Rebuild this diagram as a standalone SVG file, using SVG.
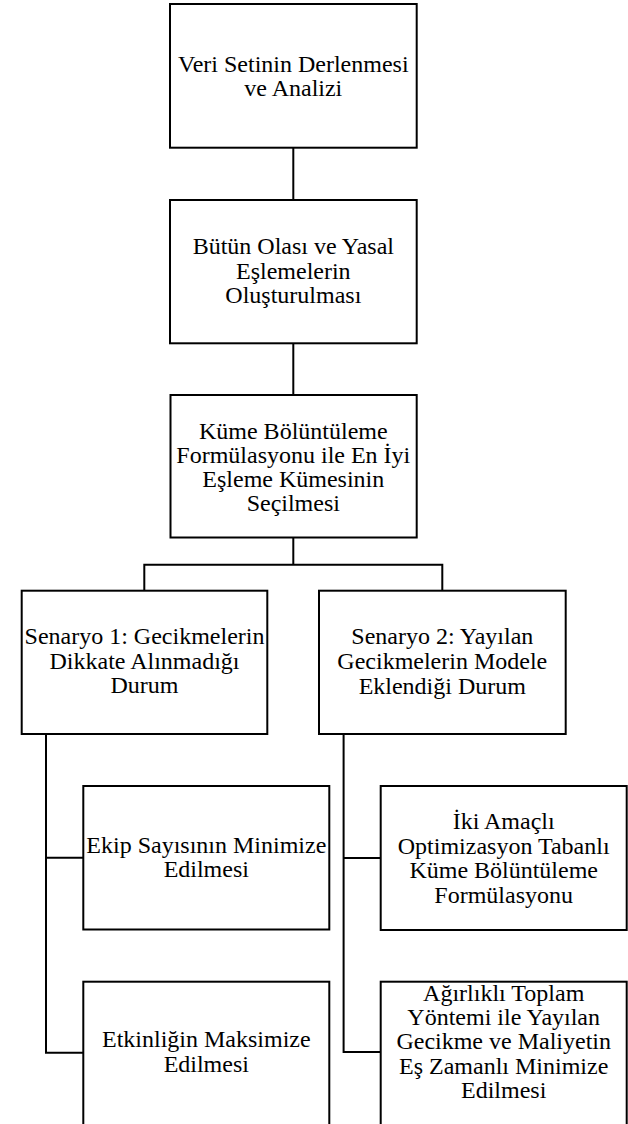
<svg xmlns="http://www.w3.org/2000/svg" width="628" height="1124" viewBox="0 0 628 1124">
<style>
.box{fill:#fff;stroke:#000;stroke-width:2}
.ln{fill:none;stroke:#000;stroke-width:2}
text{font-family:"Liberation Serif","Times New Roman",serif;font-size:24px;fill:#000;text-anchor:middle}
</style>
<rect width="628" height="1124" fill="#fff"/>
<g id="connectors">
<path class="ln" d="M293.3,147.7V200"/>
<path class="ln" d="M293.3,343.3V395"/>
<path class="ln" d="M293.3,537.5V564.7"/>
<path class="ln" d="M144.3,590.7V564.7H442.3V590.7"/>
<path class="ln" d="M46,734V1052.7H83.3"/>
<path class="ln" d="M46,857.7H83.3"/>
<path class="ln" d="M343.6,734V1052H380.7"/>
<path class="ln" d="M343.6,858H380.7"/>
</g>
<g id="n1">
<rect class="box" x="170" y="4" width="246.7" height="143.7"/>
<text x="293.3" y="72">Veri Setinin Derlenmesi</text>
<text x="293.3" y="96">ve Analizi</text>
</g>
<g id="n2">
<rect class="box" x="170" y="200" width="246.7" height="143.3"/>
<text x="293.3" y="254.3">Bütün Olası ve Yasal</text>
<text x="293.3" y="278.5">Eşlemelerin</text>
<text x="293.3" y="302.7">Oluşturulması</text>
</g>
<g id="n3">
<rect class="box" x="170.5" y="395" width="246.2" height="142.5"/>
<text x="293.3" y="439.3">Küme Bölüntüleme</text>
<text x="293.3" y="463.3">Formülasyonu ile En İyi</text>
<text x="293.3" y="487.3">Eşleme Kümesinin</text>
<text x="293.3" y="511.3">Seçilmesi</text>
</g>
<g id="s1">
<rect class="box" x="21.7" y="590.7" width="245.6" height="143.3"/>
<text x="144.5" y="644">Senaryo 1: Gecikmelerin</text>
<text x="144.5" y="668.5">Dikkate Alınmadığı</text>
<text x="144.5" y="693">Durum</text>
</g>
<g id="s2">
<rect class="box" x="319" y="590.7" width="246.7" height="143.3"/>
<text x="442.3" y="644.3">Senaryo 2: Yayılan</text>
<text x="442.3" y="668.8">Gecikmelerin Modele</text>
<text x="442.3" y="693.5">Eklendiği Durum</text>
</g>
<g id="a1">
<rect class="box" x="83.3" y="786" width="246" height="143.5"/>
<text x="206.3" y="852.7">Ekip Sayısının Minimize</text>
<text x="206.3" y="877.2">Edilmesi</text>
</g>
<g id="a2">
<rect class="box" x="83.3" y="981.7" width="246" height="143.5"/>
<text x="206.3" y="1047.3">Etkinliğin Maksimize</text>
<text x="206.3" y="1071.7">Edilmesi</text>
</g>
<g id="b1">
<rect class="box" x="380.7" y="786" width="246" height="144"/>
<text x="503.7" y="829.3">İki Amaçlı</text>
<text x="503.7" y="853.7">Optimizasyon Tabanlı</text>
<text x="503.7" y="878.1">Küme Bölüntüleme</text>
<text x="503.7" y="902.5">Formülasyonu</text>
</g>
<g id="b2">
<rect class="box" x="380.7" y="981.7" width="246" height="143.5"/>
<text x="503.7" y="1000.7">Ağırlıklı Toplam</text>
<text x="503.7" y="1025">Yöntemi ile Yayılan</text>
<text x="503.7" y="1049.3">Gecikme ve Maliyetin</text>
<text x="503.7" y="1073.6">Eş Zamanlı Minimize</text>
<text x="503.7" y="1097.9">Edilmesi</text>
</g>
</svg>
